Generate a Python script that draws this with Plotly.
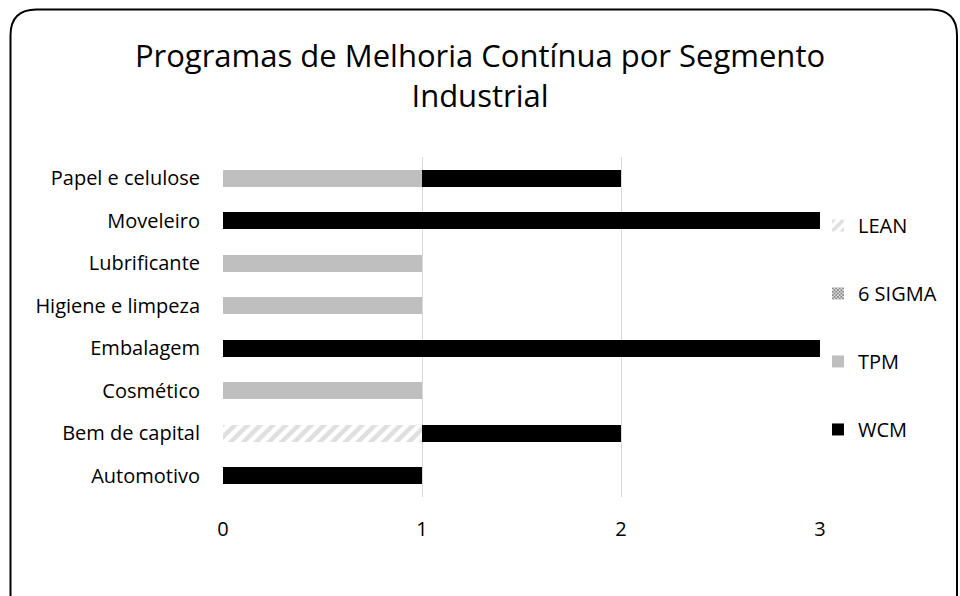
import plotly.graph_objects as go

categories = ["Automotivo", "Bem de capital", "Cosmético", "Embalagem",
              "Higiene e limpeza", "Lubrificante", "Moveleiro", "Papel e celulose"]
lean = [0, 1, 0, 0, 0, 0, 0, 0]
six_sigma = [0, 0, 0, 0, 0, 0, 0, 0]
tpm = [0, 0, 1, 0, 1, 1, 0, 1]
wcm = [1, 1, 0, 3, 0, 0, 3, 1]
x_ticks = [0, 1, 2, 3]

FONT = "Open Sans"
FS = 20
W, H = 960, 596
L, R, T, B = 223, 140, 157, 99
PW, PH = W - L - R, H - T - B

def px(x):
    return (x - L) / PW

def py(y):
    return (H - B - y) / PH

fig = go.Figure()
fig.add_trace(go.Bar(
    y=categories, x=lean, name="LEAN", orientation="h", legendgroup="a",
    marker=dict(color="white", line=dict(width=0),
                pattern=dict(shape="/", fgcolor="#bfbfbf", bgcolor="white",
                             size=9, solidity=0.5))))
fig.add_trace(go.Bar(
    y=categories, x=six_sigma, name="6 SIGMA", orientation="h", legendgroup="b",
    marker=dict(color="white", line=dict(width=0),
                pattern=dict(shape="x", fgcolor="#000000", bgcolor="white",
                             size=3, solidity=0.6))))
fig.add_trace(go.Bar(
    y=categories, x=tpm, name="TPM", orientation="h", legendgroup="c",
    marker=dict(color="#bfbfbf", line=dict(width=0))))
fig.add_trace(go.Bar(
    y=categories, x=wcm, name="WCM", orientation="h", legendgroup="d",
    marker=dict(color="#000000", line=dict(width=0))))

# rounded chart-area border
x0, x1, y0, y1, r = 10.5, 957, 9.5, 620, 26
path = (f"M {px(x0)},{py(y0 + r)} "
        f"Q {px(x0)},{py(y0)} {px(x0 + r)},{py(y0)} "
        f"L {px(x1 - r)},{py(y0)} "
        f"Q {px(x1)},{py(y0)} {px(x1)},{py(y0 + r)} "
        f"L {px(x1)},{py(y1 - r)} "
        f"Q {px(x1)},{py(y1)} {px(x1 - r)},{py(y1)} "
        f"L {px(x0 + r)},{py(y1)} "
        f"Q {px(x0)},{py(y1)} {px(x0)},{py(y1 - r)} Z")

fig.update_layout(
    width=W, height=H,
    margin=dict(l=L, r=R, t=T, b=B),
    paper_bgcolor="white", plot_bgcolor="white",
    barmode="stack", bargap=0.6,
    font=dict(family=FONT, color="#000000", size=FS),
    title=dict(text="Programas de Melhoria Contínua por Segmento<br>Industrial",
               x=0.5, xref="container", xanchor="center",
               y=1 - 67 / H, yanchor="top",
               font=dict(family=FONT, size=31, color="#000000")),
    xaxis=dict(range=[0, 3], tickvals=x_ticks, showgrid=True,
               gridcolor="#d9d9d9", gridwidth=1.3, zeroline=False,
               showline=False, ticks="outside", ticklen=14,
               tickcolor="rgba(0,0,0,0)", tickfont=dict(size=FS)),
    yaxis=dict(categoryorder="array", categoryarray=categories,
               showgrid=False, zeroline=False, showline=False,
               ticks="outside", ticklen=18, tickcolor="rgba(0,0,0,0)",
               tickfont=dict(size=FS)),
    legend=dict(x=0.9966, xanchor="left", y=0.856, yanchor="top",
                traceorder="grouped", tracegroupgap=39,
                font=dict(size=FS), bgcolor="rgba(0,0,0,0)"),
    shapes=[dict(type="path", path=path, xref="paper", yref="paper",
                 line=dict(color="#000000", width=2), layer="above")],
)

fig.write_html("out.html", config={"displayModeBar": False},
               post_script="document.body.style.margin='0';"
                           "document.body.style.overflow='hidden';")
